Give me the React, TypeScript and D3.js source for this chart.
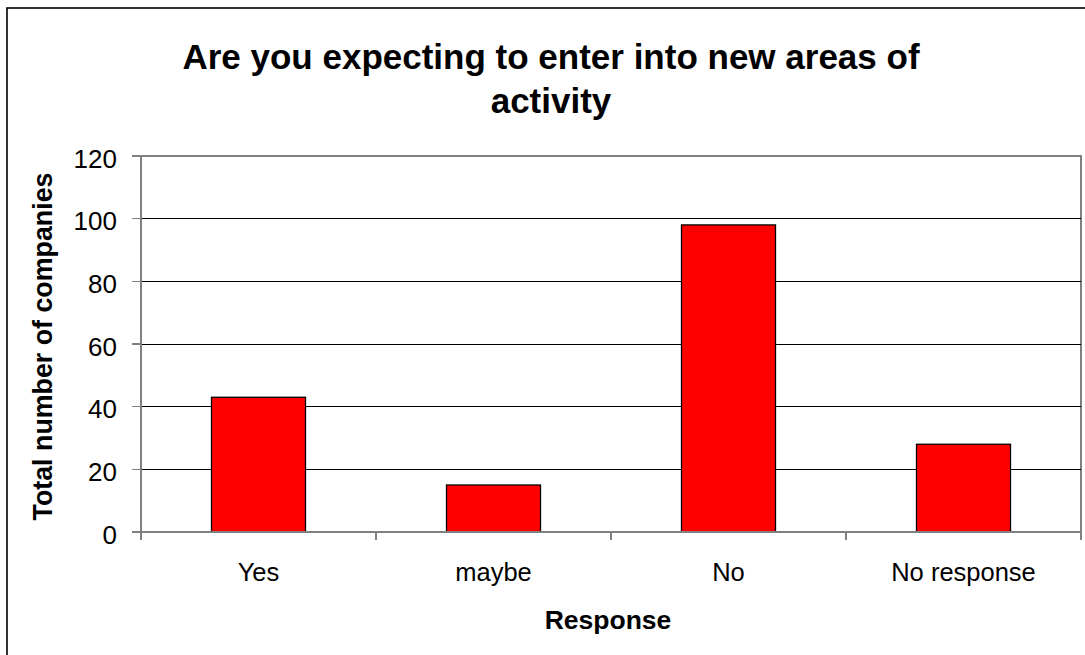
import React from "react";
import * as d3 from "d3";

const categories = ["Yes", "maybe", "No", "No response"];
const values = [43, 15, 98, 28];
const yTicks = [0, 20, 40, 60, 80, 100, 120];
const titleLines = ["Are you expecting to enter into new areas of", "activity"];
const yTitle = "Total number of companies";
const xTitle = "Response";

const W = 1085;
const H = 655;
const plot = { left: 141, right: 1081, top: 156, bottom: 532 };
const FONT = "'Liberation Sans', Arial, Helvetica, sans-serif";

export default function App() {
  const x = d3
    .scaleBand<string>()
    .domain(categories)
    .range([plot.left, plot.right])
    .paddingInner(0.6)
    .paddingOuter(0.3);
  const y = d3.scaleLinear().domain([0, 120]).range([plot.bottom, plot.top]);
  const step = x.step();
  const bounds = d3.range(categories.length + 1).map((i) => plot.left + i * step);

  return (
    <svg
      width={W}
      height={H}
      style={{ position: "absolute", left: 0, top: 0, background: "#fff" }}
      fontFamily={FONT}
    >
      <rect x={0} y={0} width={W} height={H} fill="#fff" />
      {/* outer chart frame */}
      <rect x={7} y={8} width={1100} height={700} fill="none" stroke="#000" strokeWidth={1.6} />

      {/* title */}
      {titleLines.map((t, i) => (
        <text
          key={i}
          x={551}
          y={69 + i * 44}
          textAnchor="middle"
          fontSize={35}
          fontWeight="bold"
          fill="#000"
        >
          {t}
        </text>
      ))}

      {/* plot area border */}
      <rect
        x={plot.left}
        y={plot.top}
        width={plot.right - plot.left}
        height={plot.bottom - plot.top}
        fill="none"
        stroke="#808080"
        strokeWidth={1.5}
        shapeRendering="crispEdges"
      />

      {/* gridlines */}
      {yTicks
        .filter((t) => t > 0 && t < 120)
        .map((t) => (
          <line
            key={"g" + t}
            x1={plot.left}
            x2={plot.right}
            y1={y(t)}
            y2={y(t)}
            stroke="#000"
            strokeWidth={1}
            shapeRendering="crispEdges"
          />
        ))}

      {/* bars */}
      {categories.map((c, i) => (
        <rect
          key={c}
          x={x(c)}
          y={y(values[i])}
          width={x.bandwidth()}
          height={y(0) - y(values[i])}
          fill="#FF0000"
          stroke="#000"
          strokeWidth={1.3}
        />
      ))}

      {/* axes */}
      <line x1={plot.left} x2={plot.left} y1={plot.top} y2={plot.bottom + 8} stroke="#808080" strokeWidth={1.5} shapeRendering="crispEdges" />
      <line x1={plot.left} x2={plot.right} y1={plot.bottom} y2={plot.bottom} stroke="#808080" strokeWidth={1.5} shapeRendering="crispEdges" />
      {yTicks.map((t) => (
        <g key={"yt" + t}>
          <line x1={plot.left - 9} x2={plot.left} y1={y(t)} y2={y(t)} stroke="#808080" strokeWidth={1.3} shapeRendering="crispEdges" />
          <text
            x={117}
            y={y(t) + 2.5}
            textAnchor="end"
            dominantBaseline="central"
            fontSize={26}
            fill="#000"
          >
            {t}
          </text>
        </g>
      ))}
      {bounds.map((b, i) => (
        <line key={"xt" + i} x1={b} x2={b} y1={plot.bottom} y2={plot.bottom + 8} stroke="#808080" strokeWidth={1.3} shapeRendering="crispEdges" />
      ))}
      {categories.map((c) => (
        <text
          key={"xl" + c}
          x={(x(c) as number) + x.bandwidth() / 2}
          y={581}
          textAnchor="middle"
          fontSize={25.5}
          fill="#000"
        >
          {c}
        </text>
      ))}

      {/* axis titles */}
      <text
        x={608}
        y={629}
        textAnchor="middle"
        fontSize={26.5}
        fontWeight="bold"
        fill="#000"
      >
        {xTitle}
      </text>
      <text
        transform={`translate(51.5, 346.5) rotate(-90)`}
        textAnchor="middle"
        fontSize={26.8}
        fontWeight="bold"
        fill="#000"
      >
        {yTitle}
      </text>
    </svg>
  );
}
